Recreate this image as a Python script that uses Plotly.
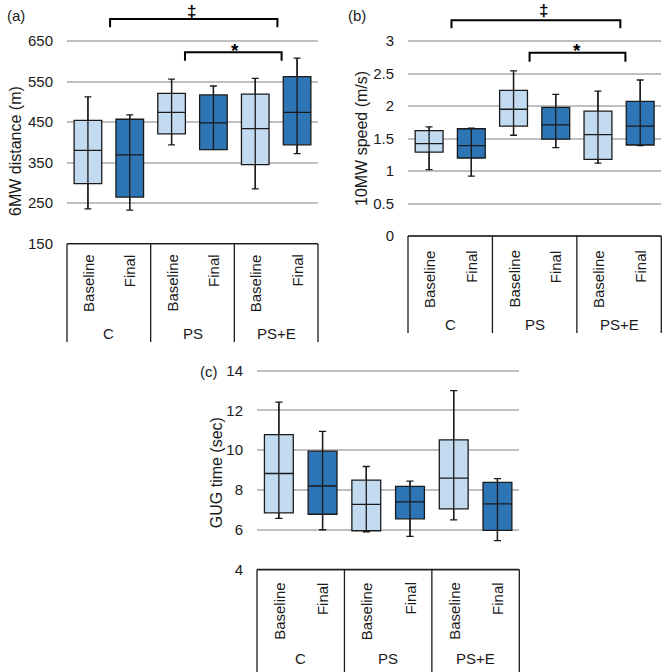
import plotly.graph_objects as go

W, H = 666, 672

# ---------------- data ----------------
categories = ["Baseline", "Final", "Baseline", "Final", "Baseline", "Final"]
groups = ["C", "PS", "PS+E"]

# (a) 6MW distance (m)
a_lo = [236, 233, 394, 382, 285, 372]
a_q1 = [298, 265, 421, 382, 345, 394]
a_med = [380, 369, 474, 448, 434, 474]
a_q3 = [454, 457, 521, 517, 519, 562]
a_hi = [512, 468, 556, 539, 558, 608]
a_ticks = [150, 250, 350, 450, 550, 650]

# (b) 10MW speed (m/s)
b_lo = [1.02, 0.92, 1.55, 1.36, 1.12, 1.39]
b_q1 = [1.29, 1.20, 1.69, 1.49, 1.18, 1.40]
b_med = [1.42, 1.39, 1.95, 1.71, 1.56, 1.69]
b_q3 = [1.62, 1.65, 2.24, 1.98, 1.92, 2.07]
b_hi = [1.68, 1.66, 2.54, 2.18, 2.23, 2.40]
b_ticks = [0, 0.5, 1, 1.5, 2, 2.5, 3]
b_ticktext = ["0", "0.5", "1", "1.5", "2", "2.5", "3"]

# (c) GUG time (sec)
c_lo = [6.57, 6.00, 5.90, 5.67, 6.50, 5.45]
c_q1 = [6.85, 6.78, 5.95, 6.55, 7.05, 5.97]
c_med = [8.83, 8.20, 7.28, 7.40, 8.60, 7.30]
c_q3 = [10.78, 9.95, 8.50, 8.18, 10.52, 8.38]
c_hi = [12.42, 10.95, 9.18, 8.45, 13.00, 8.57]
c_ticks = [4, 6, 8, 10, 12, 14]

# significance brackets: (x_start, x_end, y_top, y_drop, symbol, sym_x, sym_y)
a_sig = [(0.53, 4.53, 704, 684, "‡", 2.48, 722),
         (2.32, 4.63, 622, 601, "*", 3.52, 626)]
b_sig = [(0.53, 4.53, 3.32, 3.195, "‡", 2.70, 3.47),
         (2.38, 4.65, 2.82, 2.68, "*", 3.50, 2.86)]

# ---------------- styling / geometry ----------------
FONT = "Liberation Sans, Arial, sans-serif"
TXT = "#1a1a1a"
LIGHT = "#C3DBF0"
DARK = "#2E75B6"
EDGE = "#1a1a1a"
GRID = "#BFBFBF"

panels = [
    dict(name="a", x0=67, x1=318, top=4, bot=342, v1=650, p1=41, v2=150, p2=243.7,
         lo=a_lo, q1=a_q1, med=a_med, q3=a_q3, hi=a_hi, ticks=a_ticks,
         ticktext=[str(t) for t in a_ticks], title="6MW distance (m)",
         title_xy=(15, 151), label="(a)", label_xy=(16, 15), sig=a_sig,
         cat_top=252, grp_y=333),
    dict(name="b", x0=408, x1=661.3, top=4, bot=333, v1=3, p1=41, v2=0, p2=236,
         lo=b_lo, q1=b_q1, med=b_med, q3=b_q3, hi=b_hi, ticks=b_ticks,
         ticktext=b_ticktext, title="10MW speed (m/s)",
         title_xy=(361, 139), label="(b)", label_xy=(357, 15), sig=b_sig,
         cat_top=248, grp_y=325),
    dict(name="c", x0=257, x1=519.3, top=362, bot=672, v1=14, p1=370.7, v2=4, p2=569.5,
         lo=c_lo, q1=c_q1, med=c_med, q3=c_q3, hi=c_hi, ticks=c_ticks,
         ticktext=[str(t) for t in c_ticks], title="GUG time (sec)",
         title_xy=(216.7, 472.5), label="(c)", label_xy=(209, 371.5), sig=[],
         cat_top=580, grp_y=658),
]


def px2x(px):
    return px / W


def px2y(py):
    return 1 - py / H


fig = go.Figure()
shapes = []
annotations = []
layout_axes = {}

for k, p in enumerate(panels):
    n = "" if k == 0 else str(k + 1)
    xa, ya = "x" + n, "y" + n
    scale = (p["p2"] - p["p1"]) / (p["v1"] - p["v2"])  # px per unit

    def ypx(v, p=p, scale=scale):
        return p["p1"] + (p["v1"] - v) * scale

    def xpx(i, p=p):
        return p["x0"] + (i + 0.5) * (p["x1"] - p["x0"]) / 6

    rng_lo = p["v1"] - (p["bot"] - p["p1"]) / scale
    rng_hi = p["v1"] + (p["p1"] - p["top"]) / scale

    layout_axes["xaxis" + n] = dict(
        domain=[px2x(p["x0"]), px2x(p["x1"])], range=[-0.5, 5.5], anchor=ya,
        showticklabels=False, showgrid=False, zeroline=False, showline=False,
        ticks="", fixedrange=True)
    layout_axes["yaxis" + n] = dict(
        domain=[px2y(p["bot"]), px2y(p["top"])], range=[rng_lo, rng_hi], anchor=xa,
        tickmode="array", tickvals=p["ticks"], ticktext=p["ticktext"],
        showgrid=True, gridcolor=GRID, gridwidth=1.5, zeroline=False, showline=False,
        ticks="outside", ticklen=10, tickcolor="rgba(0,0,0,0)",
        tickfont=dict(family=FONT, size=15, color=TXT), fixedrange=True)

    # boxes
    for start, color in [(0, LIGHT), (1, DARK)]:
        idx = list(range(start, 6, 2))
        fig.add_trace(go.Box(
            x=idx, q1=[p["q1"][i] for i in idx], median=[p["med"][i] for i in idx],
            q3=[p["q3"][i] for i in idx], lowerfence=[p["lo"][i] for i in idx],
            upperfence=[p["hi"][i] for i in idx], width=0.66, whiskerwidth=0.25,
            fillcolor=color, line=dict(color=EDGE, width=1.3), boxpoints=False,
            showlegend=False, hoverinfo="skip", xaxis=xa, yaxis=ya))
    # whisker line through the box
    lx, ly = [], []
    for i in range(6):
        lx += [i, i, None]
        ly += [p["lo"][i], p["hi"][i], None]
    fig.add_trace(go.Scatter(x=lx, y=ly, mode="lines", line=dict(color=EDGE, width=1.3),
                             showlegend=False, hoverinfo="skip", xaxis=xa, yaxis=ya))

    # category box
    ytop = ypx(p["ticks"][0])
    shapes.append(dict(type="line", xref="paper", yref="paper",
                       x0=px2x(p["x0"]), x1=px2x(p["x1"]), y0=px2y(ytop), y1=px2y(ytop),
                       line=dict(color=EDGE, width=1.3)))
    for b in [-0.5, 1.5, 3.5, 5.5]:
        xb = xpx(b)
        shapes.append(dict(type="line", xref="paper", yref="paper",
                           x0=px2x(xb), x1=px2x(xb), y0=px2y(ytop), y1=px2y(p["bot"]),
                           line=dict(color=EDGE, width=1.3)))
    for i, c in enumerate(categories):
        annotations.append(dict(text=c, xref="paper", yref="paper", x=px2x(xpx(i)),
                                y=px2y(p["cat_top"]), xanchor="center", yanchor="top",
                                textangle=-90, showarrow=False,
                                font=dict(family=FONT, size=15, color=TXT)))
    for g, gname in enumerate(groups):
        annotations.append(dict(text=gname, xref="paper", yref="paper",
                                x=px2x(xpx(2 * g + 0.5)), y=px2y(p["grp_y"]),
                                xanchor="center", yanchor="middle", showarrow=False,
                                font=dict(family=FONT, size=15, color=TXT)))

    # significance brackets
    for (s0, s1, yt, yd, sym, sx, sy) in p["sig"]:
        X0, X1 = px2x(xpx(s0)), px2x(xpx(s1))
        YT, YD = px2y(ypx(yt)), px2y(ypx(yd))
        shapes.append(dict(type="path", xref="paper", yref="paper",
                           path=f"M {X0},{YD} L {X0},{YT} L {X1},{YT} L {X1},{YD}",
                           line=dict(color="#000000", width=2)))
        annotations.append(dict(text=f"<b>{sym}</b>", xref="paper", yref="paper",
                                x=px2x(xpx(sx)), y=px2y(ypx(sy)),
                                xanchor="center", yanchor="middle", showarrow=False,
                                font=dict(family=FONT, size=19 if sym == "*" else 17,
                                          color="#000000")))

    # y title and panel label
    tx, ty = p["title_xy"]
    annotations.append(dict(text=p["title"], xref="paper", yref="paper", x=px2x(tx),
                            y=px2y(ty), xanchor="center", yanchor="middle", textangle=-90,
                            showarrow=False, font=dict(family=FONT, size=16, color=TXT)))
    lx_, ly_ = p["label_xy"]
    annotations.append(dict(text=p["label"], xref="paper", yref="paper", x=px2x(lx_),
                            y=px2y(ly_), xanchor="center", yanchor="middle",
                            showarrow=False, font=dict(family=FONT, size=15, color=TXT)))

fig.update_layout(
    width=W, height=H, margin=dict(l=0, r=0, t=0, b=0),
    paper_bgcolor="white", plot_bgcolor="white", boxmode="overlay",
    showlegend=False, shapes=shapes, annotations=annotations, **layout_axes)

fig.write_html("out.html", config={"displayModeBar": False},
               post_script="document.body.style.margin='0';document.body.style.overflow='hidden';")
